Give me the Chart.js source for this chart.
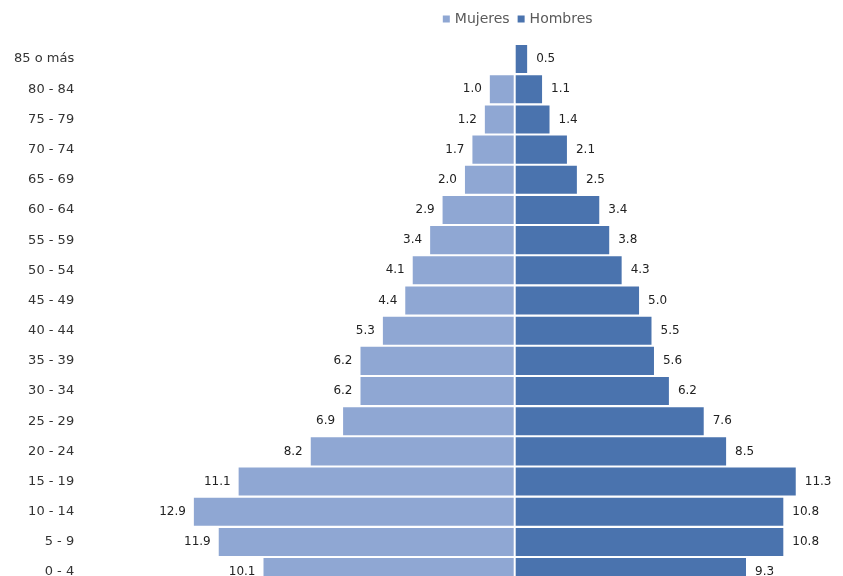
<!DOCTYPE html>
<html>
<head>
<meta charset="utf-8">
<script src="https://cdn.jsdelivr.net/npm/chart.js@4.4.0/dist/chart.umd.min.js"></script>
<style>
  html, body { margin: 0; padding: 0; background: #fff; overflow: hidden; }
  #wrap { width: 843px; height: 601px; position: relative; }
</style>
</head>
<body>
<div id="wrap"><canvas id="piramide"></canvas></div>
<script>
const grupos = ['85 o más', '80 - 84', '75 - 79', '70 - 74', '65 - 69', '60 - 64', '55 - 59', '50 - 54', '45 - 49',
    '40 - 44', '35 - 39', '30 - 34', '25 - 29', '20 - 24', '15 - 19', '10 - 14', '5 - 9', '0 - 4'];
const mujeres = [0, 1.0, 1.2, 1.7, 2.0, 2.9, 3.4, 4.1, 4.4, 5.3, 6.2, 6.2, 6.9, 8.2, 11.1, 12.9, 11.9, 10.1];
const hombres = [0.5, 1.1, 1.4, 2.1, 2.5, 3.4, 3.8, 4.3, 5.0, 5.5, 5.6, 6.2, 7.6, 8.5, 11.3, 10.8, 10.8, 9.3];

const colorMujeres = '#8fa7d3';
const colorHombres = '#4a73ae';

// etiquetas de valor junto a cada barra, linea central y leyenda
const extras = {
    id: 'extras',
    afterDatasetsDraw(chart) {
        const c = chart.ctx;
        const xs = chart.scales.x;
        const area = chart.chartArea;
        const x0 = xs.getPixelForValue(0);

        c.save();
        c.strokeStyle = '#ffffff';
        c.lineWidth = 2;
        c.beginPath();
        c.moveTo(x0, area.top);
        c.lineTo(x0, area.bottom);
        c.stroke();

        c.font = '12px "DejaVu Sans"';
        c.fillStyle = '#222';
        c.textBaseline = 'middle';
        chart.data.datasets.forEach((ds, i) => {
            const meta = chart.getDatasetMeta(i);
            meta.data.forEach((bar, j) => {
                const v = Math.abs(ds.data[j]);
                if (!v) return;
                const txt = v.toFixed(1);
                if (ds.data[j] < 0) {
                    c.textAlign = 'right';
                    c.fillText(txt, bar.x - 8, bar.y);
                } else {
                    c.textAlign = 'left';
                    c.fillText(txt, bar.x + 9, bar.y);
                }
            });
        });

        // leyenda centrada sobre el eje cero
        c.font = '14px "DejaVu Sans"';
        c.textAlign = 'left';
        const items = [['Mujeres', colorMujeres], ['Hombres', colorHombres]];
        const box = 7, gap = 5, sep = 8;
        const widths = items.map(it => box + gap + c.measureText(it[0]).width);
        let x = x0 + 3 - (widths[0] + widths[1] + sep) / 2;
        const y = 19;
        items.forEach((it, k) => {
            c.fillStyle = it[1];
            c.fillRect(x, y - box / 2, box, box);
            c.fillStyle = '#5a5a5a';
            c.fillText(it[0], x + box + gap, y);
            x += widths[k] + sep;
        });
        c.restore();
    }
};

new Chart(document.getElementById('piramide'), {
    type: 'bar',
    data: {
        labels: grupos,
        datasets: [{
            label: 'Mujeres',
            data: mujeres.map(v => -v),
            backgroundColor: colorMujeres,
            categoryPercentage: 1,
            barPercentage: 0.93
        },
        {
            label: 'Hombres',
            data: hombres,
            backgroundColor: colorHombres,
            categoryPercentage: 1,
            barPercentage: 0.93
        }]
    },
    options: {
        indexAxis: 'y',
        responsive: true,
        maintainAspectRatio: false,
        animation: false,
        layout: {
            padding: { top: 44, left: 8, right: 0, bottom: 0 }
        },
        scales: {
            x: {
                stacked: true,
                display: false,
                min: -17.15,
                max: 13.2
            },
            y: {
                stacked: true,
                grid: { display: false },
                border: { display: false },
                ticks: {
                    color: '#333',
                    font: { family: 'DejaVu Sans', size: 13 },
                    padding: 6
                }
            }
        },
        plugins: {
            legend: { display: false },
            tooltip: { enabled: false }
        }
    },
    plugins: [extras]
});
</script>
</body>
</html>
